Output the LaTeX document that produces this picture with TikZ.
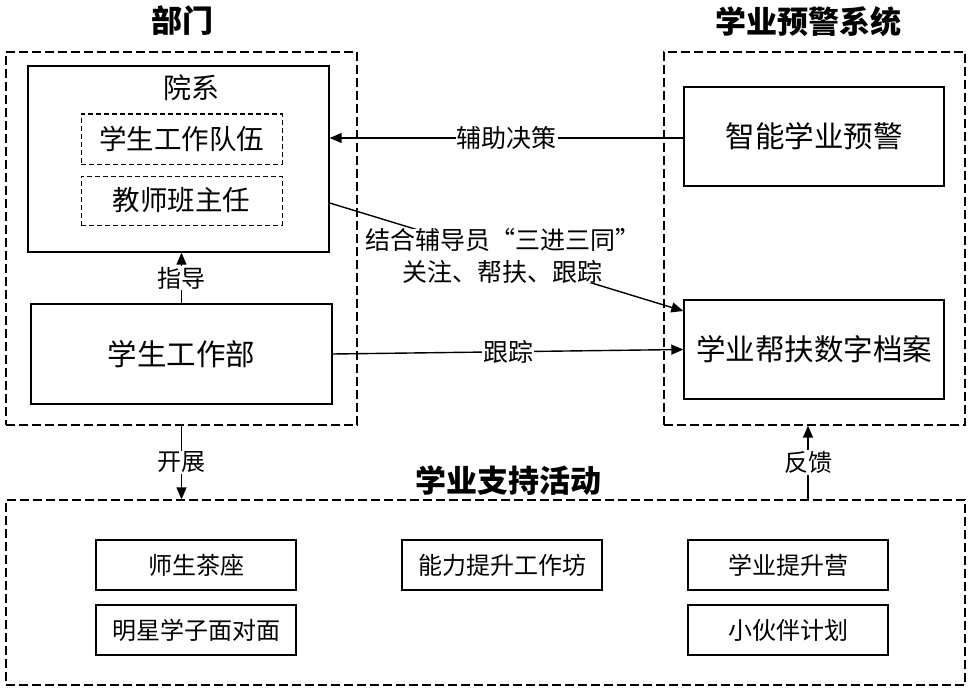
\documentclass[tikz,border=0pt]{standalone}
\usepackage{fontspec}
\setmainfont{Noto Sans CJK SC}
\usetikzlibrary{arrows.meta}
\newcommand{\fs}[1]{\fontsize{#1pt}{\dimexpr #1pt*13/10\relax}\selectfont}
\tikzset{
  solidbox/.style={draw, line width=1.4pt, inner sep=0pt, minimum width=#1},
  outerdash/.style={draw, line width=1.3pt, dash pattern=on 9pt off 4pt, inner sep=0pt},
  innerdash/.style={draw, line width=1pt, dash pattern=on 5pt off 3pt, inner sep=0pt, minimum width=201pt, minimum height=50pt, font=\fs{27.5}},
  actbox/.style={draw, line width=1.3pt, inner sep=0pt, minimum width=200pt, minimum height=50pt, font=\fs{24}},
  arr/.style={line width=1.4pt, -{Triangle[length=12pt,width=10pt]}},
  lbl/.style={fill=white, inner sep=1pt, font=\fs{25}},
  ttl/.style={font=\bfseries\fs{31}, inner sep=0pt}
}
\begin{document}
\begin{tikzpicture}[x=1pt,y=-1pt]
\useasboundingbox (0,0) rectangle (970,693);
% outer dashed containers
\node[outerdash, minimum width=351pt, minimum height=373pt] (ldash) at (181.5,238.5) {};
\node[outerdash, minimum width=301pt, minimum height=373pt] (rdash) at (814.5,238.5) {};
\node[outerdash, minimum width=959pt, minimum height=185pt] (bdash) at (485.5,592.5) {};
% titles
\node[ttl] (t1) at (182,21) {部门};
\node[ttl] (t2) at (808,22) {学业预警系统};
\node[ttl] (t3) at (508,481) {学业支持活动};
% left column
\node[solidbox=301pt, minimum height=186pt] (yuanxi) at (178.5,159) {};
\node[font=\fs{28}, inner sep=0pt] (yxlbl) at (191,88) {院系};
\node[innerdash] (dw) at (181.5,139) {学生工作队伍};
\node[innerdash, minimum height=49pt] (bzr) at (181.5,200.5) {教师班主任};
\node[solidbox=301pt, minimum height=100pt, font=\fs{29.5}] (xsgzb) at (181.5,354) {学生工作部};
% right column
\node[solidbox=260pt, minimum height=99pt, font=\fs{29.5}] (znyj) at (814,136.5) {智能学业预警};
\node[solidbox=260pt, minimum height=99pt, font=\fs{29.5}] (bfda) at (814,349.5) {学业帮扶数字档案};
% activities
\node[actbox] (a1) at (196,565) {师生茶座};
\node[actbox] (a2) at (196,630) {明星学子面对面};
\node[actbox] (a3) at (502,565) {能力提升工作坊};
\node[actbox] (a4) at (788,565) {学业提升营};
\node[actbox] (a5) at (788,630) {小伙伴计划};
% connectors
\draw[arr] ([yshift=-1.5pt]znyj.west) -- ([yshift=-1.5pt]znyj.west -| yuanxi.east)
  node[lbl, pos=0.5] (l1) {辅助决策};
\draw[arr] ([yshift=-44pt]yuanxi.east) -- ([yshift=38.5pt]bfda.west)
  node[lbl, pos=0.49, align=center, font=\fs{25}, inner sep=0pt] (l2) {结合辅导员“三进三同”\\[-1pt]关注、帮扶、跟踪};
\draw[arr] (xsgzb.east) -- (bfda.west) node[lbl, pos=0.5] (l3) {跟踪};
\draw[arr] (xsgzb.north) -- (xsgzb.north |- yuanxi.south) node[lbl, pos=0.5, font=\fs{24}] (l4) {指导};
\draw[arr] (ldash.south) -- (ldash.south |- bdash.north) node[lbl, pos=0.5, font=\fs{24}] (l5) {开展};
\draw[arr] ([xshift=-6.5pt]rdash.south |- bdash.north) -- ([xshift=-6.5pt]rdash.south) node[lbl, pos=0.5, font=\fs{24}] (l6) {反馈};
\end{tikzpicture}
\end{document}
